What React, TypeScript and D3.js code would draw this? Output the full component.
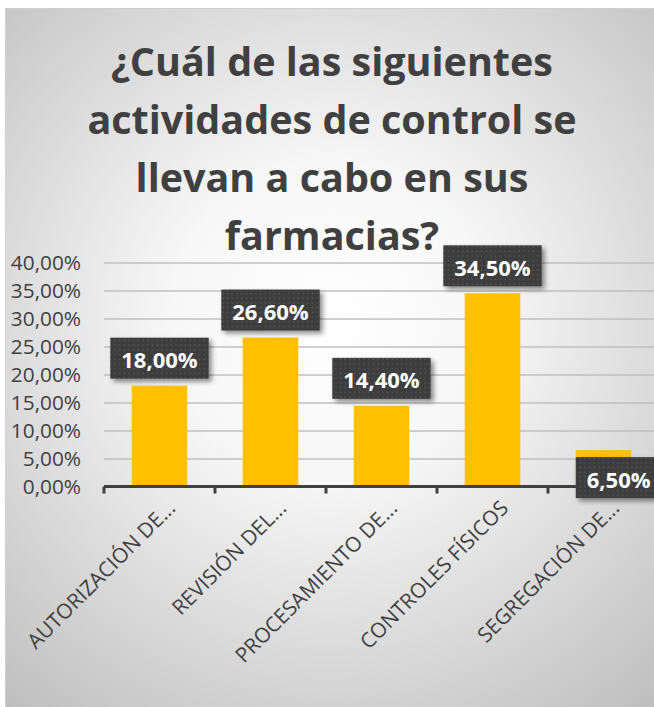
import React, { useEffect, useRef } from 'react';
import * as d3 from 'd3';

// chart data
const categories = [
  'AUTORIZACIÓN DE...',
  'REVISIÓN DEL...',
  'PROCESAMIENTO DE...',
  'CONTROLES FÍSICOS',
  'SEGREGACIÓN DE...',
];
const values = [0.18, 0.266, 0.144, 0.345, 0.065];
const yTicks = [0, 0.05, 0.1, 0.15, 0.2, 0.25, 0.3, 0.35, 0.4];
const titleLines = [
  '¿Cuál de las siguientes',
  'actividades de control se',
  'llevan a cabo en sus',
  'farmacias?',
];

const width = 654;
const height = 707;
const marginTop = 262.5;
const marginBottom = 220.5;
const marginLeft = 104;
const plotRight = 659;
const font = "'Open Sans', sans-serif";

const locale = d3.formatLocale({ decimal: ',', thousands: '.', grouping: [3], currency: ['', '€'] });
const pct = locale.format('.2%');

function App() {
  const svgRef = useRef<SVGSVGElement>(null);

  useEffect(() => {
    const svg = d3.select(svgRef.current)
      .attr('width', width)
      .attr('height', height)
      .attr('viewBox', [0, 0, width, height].join(' '));

    svg.selectAll('*').remove();

    const defs = svg.append('defs');
    const grad = defs.append('radialGradient')
      .attr('id', 'bg')
      .attr('gradientUnits', 'userSpaceOnUse')
      .attr('cx', 330).attr('cy', 320).attr('r', 520);
    grad.append('stop').attr('offset', '0%').attr('stop-color', '#ffffff');
    grad.append('stop').attr('offset', '30%').attr('stop-color', '#f7f7f7');
    grad.append('stop').attr('offset', '100%').attr('stop-color', '#bcbcbc');

    const pat = defs.append('pattern')
      .attr('id', 'dots')
      .attr('patternUnits', 'userSpaceOnUse')
      .attr('width', 4.7).attr('height', 4.7);
    pat.append('rect').attr('width', 4.7).attr('height', 4.7).attr('fill', '#3d3d3d');
    pat.append('rect').attr('x', 1.5).attr('y', 1.5).attr('width', 1.4).attr('height', 1.4).attr('fill', '#575757');

    const shadow = defs.append('filter').attr('id', 'shadow')
      .attr('x', '-20%').attr('y', '-20%').attr('width', '150%').attr('height', '160%');
    shadow.append('feDropShadow')
      .attr('dx', 3).attr('dy', 3).attr('stdDeviation', 2.5)
      .attr('flood-color', '#000').attr('flood-opacity', 0.45);

    // chart frame
    svg.append('rect')
      .attr('x', 5.5).attr('y', 8.5)
      .attr('width', width + 10).attr('height', height + 10)
      .attr('fill', 'url(#bg)')
      .attr('stroke', '#cfcfcf');

    // title
    svg.append('g')
      .selectAll('text')
      .data(titleLines)
      .join('text')
      .attr('x', 332)
      .attr('y', (d, i) => 76 + i * 58)
      .attr('text-anchor', 'middle')
      .attr('font-family', font)
      .attr('font-weight', 700)
      .attr('font-size', 39.5)
      .attr('fill', '#404040')
      .text(d => d);

    const x = d3.scaleBand()
      .domain(categories)
      .range([marginLeft, plotRight])
      .paddingInner(0.5)
      .paddingOuter(0.25);

    const y = d3.scaleLinear()
      .domain([0, 0.4])
      .range([height - marginBottom, marginTop]);

    // y axis + grid
    svg.append('g')
      .attr('transform', `translate(${marginLeft},0)`)
      .call(d3.axisLeft(y).tickValues(yTicks).tickFormat(d => pct(d as number)).tickSize(0).tickPadding(23))
      .call(g => g.select('.domain').remove())
      .call(g => g.selectAll('.tick text')
        .attr('font-family', font)
        .attr('font-size', 20.8)
        .attr('fill', '#404040'))
      .call(g => g.selectAll('.tick line').clone()
        .attr('x2', plotRight - marginLeft)
        .attr('stroke', '#bfbfbf')
        .attr('stroke-width', 1.5));

    // bars
    svg.append('g')
      .selectAll('rect')
      .data(values)
      .join('rect')
      .attr('x', (d, i) => x(categories[i]))
      .attr('y', d => y(d))
      .attr('width', x.bandwidth())
      .attr('height', d => y(0) - y(d))
      .attr('fill', '#ffc000');

    // x axis
    const step = x.step();
    svg.append('g')
      .attr('transform', `translate(0,${y(0)})`)
      .call(g => g.append('line')
        .attr('x1', marginLeft).attr('x2', plotRight)
        .attr('stroke', '#404040').attr('stroke-width', 3))
      .call(g => g.selectAll('line.tick')
        .data(d3.range(categories.length + 1))
        .join('line')
        .attr('class', 'tick')
        .attr('x1', i => marginLeft + i * step)
        .attr('x2', i => marginLeft + i * step)
        .attr('y1', 0).attr('y2', 7)
        .attr('stroke', '#404040').attr('stroke-width', 3));

    svg.append('g')
      .selectAll('text')
      .data(categories)
      .join('text')
      .attr('transform', d => `translate(${x(d)! + x.bandwidth() / 2 + 17},${y(0) + 23}) rotate(-45)`)
      .attr('text-anchor', 'end')
      .attr('font-family', font)
      .attr('font-size', 20.8)
      .attr('fill', '#404040')
      .text(d => d);

    // data labels
    const labels = svg.append('g')
      .selectAll('g')
      .data(values)
      .join('g');

    labels.append('text')
      .attr('font-family', font)
      .attr('font-weight', 700)
      .attr('font-size', 22)
      .attr('fill', '#ffffff')
      .attr('dominant-baseline', 'central')
      .text(d => pct(d));

    const boxH = 41;
    const padX = 11;
    labels.each(function (d, i) {
      const g = d3.select(this);
      const t = g.select('text');
      const tw = (t.node() as SVGTextElement).getComputedTextLength();
      const bw = tw + padX * 2;
      const cat = categories[i];
      let bx = x(cat)! + x.bandwidth() / 2 - bw / 2;
      let by = y(d) - 7 - boxH;
      if (i === values.length - 1) {
        // last label sits below the bar top, pushed to the right edge
        bx = x(cat)!;
        by = y(d) + 7;
      }
      g.insert('rect', 'text')
        .attr('x', bx).attr('y', by)
        .attr('width', bw).attr('height', boxH)
        .attr('fill', 'url(#dots)')
        .attr('filter', 'url(#shadow)');
      t.attr('x', bx + padX).attr('y', by + boxH / 2 + 1);
    });
  }, []);

  return (
    <div>
      <svg ref={svgRef} style={{ position: 'absolute', left: 0, top: 0 }}></svg>
    </div>
  );
}

export default App;
